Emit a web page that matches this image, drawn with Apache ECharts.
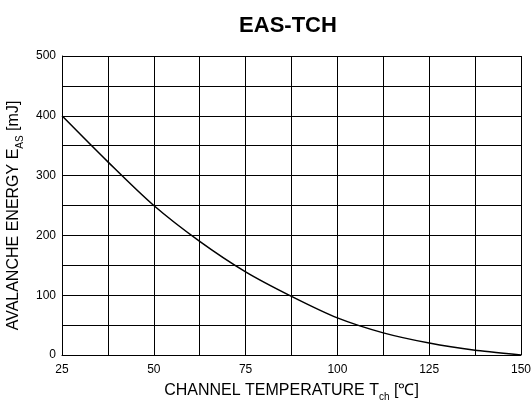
<!DOCTYPE html>
<html>
<head>
<meta charset="utf-8">
<script src="https://cdn.jsdelivr.net/npm/echarts@6/dist/echarts.min.js"></script>
<style>html,body{margin:0;padding:0;background:#fff}#c{width:531px;height:401px}</style>
</head>
<body>
<div id="c"></div>
<script>
var temps = [25, 37.5, 50, 62.5, 75, 87.5, 100, 112.5, 125, 137.5, 150];
var energy = [400, 323, 250, 190, 139, 98, 62, 37, 20, 8, 0];
var xTickLabels = [25, 50, 75, 100, 125, 150];
var yTickLabels = [0, 100, 200, 300, 400, 500];

var chart = echarts.init(document.getElementById('c'));
var font = 'Liberation Sans, Arial, sans-serif';
chart.setOption({
  animation: false,
  title: {
    text: 'EAS-TCH', left: 283, top: 10, textAlign: 'center',
    textStyle: {fontFamily: font, fontSize: 22, fontWeight: 'bold', color: '#000'}
  },
  grid: {left: 62, right: 10, top: 56, bottom: 46, containLabel: false, outerBoundsMode: 'none'},
  xAxis: {
    type: 'value', min: 25, max: 150, interval: 12.5,
    name: '{a|CHANNEL TEMPERATURE T}{s|ch}{a| [℃]}',
    nameLocation: 'middle', nameGap: 26,
    nameTextStyle: {rich: {
      a: {fontFamily: font, fontSize: 16, color: '#000', lineHeight: 18, verticalAlign: 'bottom'},
      s: {fontFamily: font, fontSize: 10, color: '#000', lineHeight: 18, verticalAlign: 'bottom', padding: [0,0,-3,0]}
    }},
    axisLine: {show: true, lineStyle: {color: '#000', width: 1}},
    axisTick: {show: false},
    axisLabel: {
      fontFamily: font, fontSize: 12, color: '#000', margin: 9,
      formatter: function (v) { return xTickLabels.indexOf(v) >= 0 ? String(v) : ''; }
    },
    splitLine: {show: true, lineStyle: {color: '#000', width: 1}}
  },
  yAxis: {
    type: 'value', min: 0, max: 500, interval: 50,
    name: '{a|AVALANCHE ENERGY E}{s|AS}{a| [mJ]}',
    nameLocation: 'middle', nameGap: 36, nameRotate: 90,
    nameTextStyle: {padding: [0, 20, 0, 0], rich: {
      a: {fontFamily: font, fontSize: 16, color: '#000', lineHeight: 18, verticalAlign: 'bottom'},
      s: {fontFamily: font, fontSize: 10, color: '#000', lineHeight: 18, verticalAlign: 'bottom', padding: [0,0,-3,0]}
    }},
    axisLine: {show: true, lineStyle: {color: '#000', width: 1}},
    axisTick: {show: true, inside: true, length: 3, lineStyle: {color: '#000'}},
    axisLabel: {
      fontFamily: font, fontSize: 12, color: '#000', margin: 6,
      formatter: function (v) { return yTickLabels.indexOf(v) >= 0 ? String(v) : ''; }
    },
    splitLine: {show: true, lineStyle: {color: '#000', width: 1}}
  },
  series: [{
    type: 'line',
    data: temps.map(function (t, i) { return [t, energy[i]]; }),
    smooth: 0.3, showSymbol: false,
    lineStyle: {color: '#000', width: 1.5}
  }]
});
</script>
</body>
</html>
